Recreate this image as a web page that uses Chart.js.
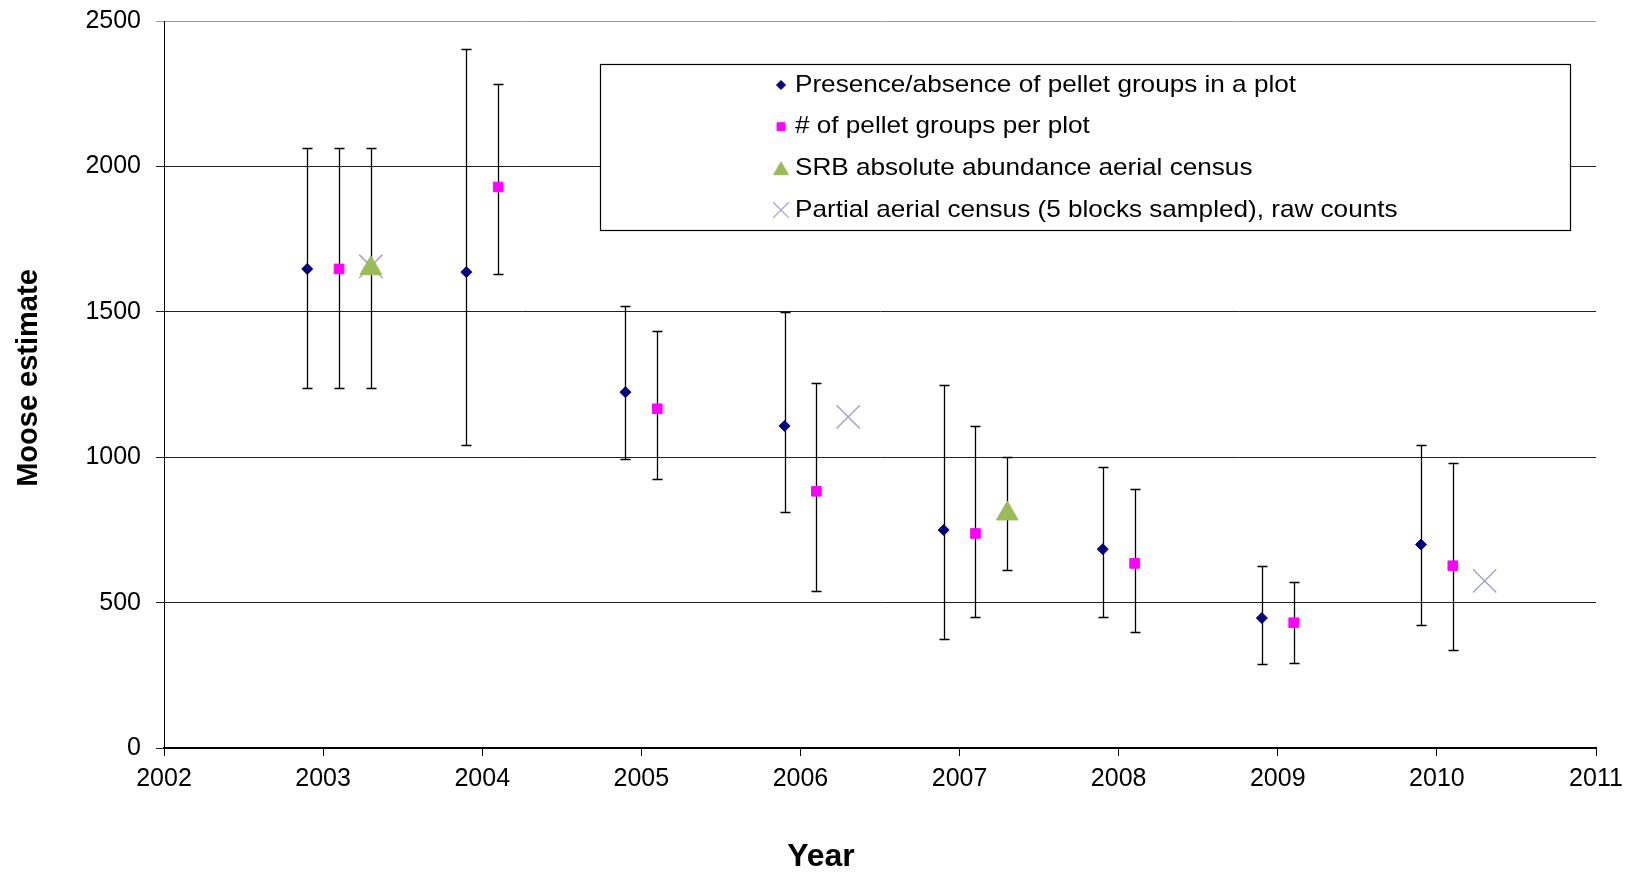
<!DOCTYPE html>
<html>
<head>
<meta charset="utf-8">
<script src="https://cdn.jsdelivr.net/npm/chart.js@4.4.1/dist/chart.umd.min.js"></script>
<style>
  html, body { margin: 0; padding: 0; background: #fff; }
  #wrap { width: 1636px; height: 873px; }
</style>
</head>
<body>
<div id="wrap"><canvas id="chart"></canvas></div>
<script>
// DATA
const presenceX    = [2002.9, 2003.9, 2004.9, 2005.9, 2006.9, 2007.9, 2008.9, 2009.9];
const presenceY    = [1648, 1637, 1224, 1108, 750, 684, 447, 700];
const presenceLow  = [1237, 1044, 994, 813, 376, 450, 289, 424];
const presenceHigh = [2063, 2404, 1522, 1500, 1248, 966, 627, 1044];

const pelletX    = [2003.1, 2004.1, 2005.1, 2006.1, 2007.1, 2008.1, 2009.1, 2010.1];
const pelletY    = [1648, 1930, 1167, 883, 738, 635, 431, 627];
const pelletLow  = [1237, 1630, 924, 541, 450, 400, 292, 338];
const pelletHigh = [2063, 2285, 1436, 1255, 1107, 890, 570, 979];

const srbX    = [2003.3, 2007.3];
const srbY    = [1650, 806];
const srbLow  = [1237, 612];
const srbHigh = [2063, 1000];

const partialX = [2003.3, 2006.3, 2010.3];
const partialY = [1657, 1139, 575];

const seriesNames = [
  'Presence/absence of pellet groups in a plot',
  '# of pellet groups per plot',
  'SRB absolute abundance aerial census',
  'Partial aerial census (5 blocks sampled), raw counts'
];
const xTickMin = 2002, xTickMax = 2011, xStep = 1;
const yTickMin = 0, yTickMax = 2500, yStep = 500;
const xTitle = 'Year';
const yTitle = 'Moose estimate';

// Colors
const NAVY = '#000080';
const MAGENTA = '#FF00FF';
const OLIVE = '#9BBB59';
const LAVENDER = '#A3A3CF';

const FONT = "'Liberation Sans', Arial, sans-serif";
Chart.defaults.font.family = FONT;
Chart.defaults.color = '#000';

const pts = (xs, ys) => xs.map((x, i) => ({ x, y: ys[i] }));

// error bars drawn behind the markers
const errorBars = {
  id: 'errorBars',
  beforeDatasetsDraw(chart) {
    const { ctx, scales: { x, y } } = chart;
    ctx.save();
    ctx.strokeStyle = '#000';
    ctx.lineWidth = 1.3;
    chart.data.datasets.forEach(ds => {
      if (!ds.errLow) return;
      ds.data.forEach((p, i) => {
        const px = Math.round(x.getPixelForValue(p.x)) + 0.5;
        const top = Math.round(y.getPixelForValue(ds.errHigh[i])) + 0.5;
        const bot = Math.round(y.getPixelForValue(ds.errLow[i])) + 0.5;
        ctx.beginPath();
        ctx.moveTo(px, top); ctx.lineTo(px, bot);
        ctx.moveTo(px - 5, top); ctx.lineTo(px + 5, top);
        ctx.moveTo(px - 5, bot); ctx.lineTo(px + 5, bot);
        ctx.stroke();
      });
    });
    ctx.restore();
  }
};

// boxed legend + axis titles
const decor = {
  id: 'decor',
  afterDraw(chart) {
    const ctx = chart.ctx;
    ctx.save();

    // legend box
    ctx.fillStyle = '#fff';
    ctx.fillRect(600, 64, 970, 167);
    ctx.strokeStyle = '#000';
    ctx.lineWidth = 1.2;
    ctx.strokeRect(600.5, 64.5, 970, 166);

    const marks = [
      { style: 'rectRot', r: 4.5, fill: NAVY, stroke: NAVY, bw: 1 },
      { style: 'rect', r: 5.6, fill: MAGENTA, stroke: MAGENTA, bw: 1 },
      { style: 'triangle', r: 8.5, fill: OLIVE, stroke: OLIVE, bw: 1 },
      { style: 'crossRot', r: 11, fill: 'transparent', stroke: LAVENDER, bw: 1.3 }
    ];
    ctx.font = '24px ' + FONT;
    ctx.textBaseline = 'middle';
    ctx.textAlign = 'left';
    const sx = 501 / ctx.measureText(seriesNames[0]).width;
    seriesNames.forEach((name, i) => {
      const cy = 85 + i * 41.7;
      const m = marks[i];
      ctx.fillStyle = m.fill;
      ctx.strokeStyle = m.stroke;
      ctx.lineWidth = m.bw;
      Chart.helpers.drawPoint(ctx, { pointStyle: m.style, radius: m.r, rotation: 0, borderWidth: m.bw }, 781, cy + (m.style === 'triangle' ? 2 : 0));
      ctx.save();
      ctx.translate(795, cy);
      ctx.scale(sx, 1);
      ctx.fillStyle = '#000';
      ctx.fillText(name, 0, 0);
      ctx.restore();
    });

    // axis titles
    ctx.fillStyle = '#000';
    ctx.textAlign = 'center';
    ctx.font = 'bold 32px ' + FONT;
    ctx.fillText(xTitle, 821, 857);
    ctx.save();
    ctx.translate(29, 378);
    ctx.rotate(-Math.PI / 2);
    ctx.font = 'bold 29px ' + FONT;
    ctx.fillText(yTitle, 0, 0);
    ctx.restore();

    ctx.restore();
  }
};

new Chart(document.getElementById('chart'), {
  type: 'scatter',
  data: {
    datasets: [
      {
        label: seriesNames[0], data: pts(presenceX, presenceY),
        errLow: presenceLow, errHigh: presenceHigh,
        pointStyle: 'rectRot', pointRadius: 5.5, backgroundColor: NAVY, borderColor: NAVY, borderWidth: 1
      },
      {
        label: seriesNames[1], data: pts(pelletX, pelletY),
        errLow: pelletLow, errHigh: pelletHigh,
        pointStyle: 'rect', pointRadius: 6.8, backgroundColor: MAGENTA, borderColor: MAGENTA, borderWidth: 1
      },
      {
        label: seriesNames[2], data: pts(srbX, srbY),
        errLow: srbLow, errHigh: srbHigh,
        pointStyle: 'triangle', pointRadius: 12.5, backgroundColor: OLIVE, borderColor: OLIVE, borderWidth: 1
      },
      {
        label: seriesNames[3], data: pts(partialX, partialY),
        pointStyle: 'crossRot', pointRadius: 16.5, backgroundColor: LAVENDER, borderColor: LAVENDER, borderWidth: 1.5
      }
    ]
  },
  options: {
    responsive: true,
    maintainAspectRatio: false,
    animation: false,
    layout: { padding: { left: 0, right: 40, top: 18, bottom: 0 } },
    plugins: { legend: { display: false }, tooltip: { enabled: false } },
    scales: {
      x: {
        type: 'linear', min: xTickMin, max: xTickMax,
        ticks: { stepSize: xStep, padding: 8, font: { size: 25 }, callback: v => String(v) },
        grid: { drawOnChartArea: false, drawTicks: true, tickLength: 8, color: '#000' },
        border: { color: '#000', width: 2 },
        afterFit: s => { s.height = 125; }
      },
      y: {
        min: yTickMin, max: yTickMax,
        ticks: { stepSize: yStep, padding: 15, font: { size: 25, lineHeight: 0.5 }, callback: v => String(v) },
        grid: {
          tickLength: 8,
          color: c => (c.tick && c.tick.value === yTickMax) ? '#9a9a9a' : '#222',
          lineWidth: 1
        },
        border: { color: '#000', width: 1 },
        afterFit: s => { s.width = 164; }
      }
    }
  },
  plugins: [errorBars, decor]
});
</script>
</body>
</html>
